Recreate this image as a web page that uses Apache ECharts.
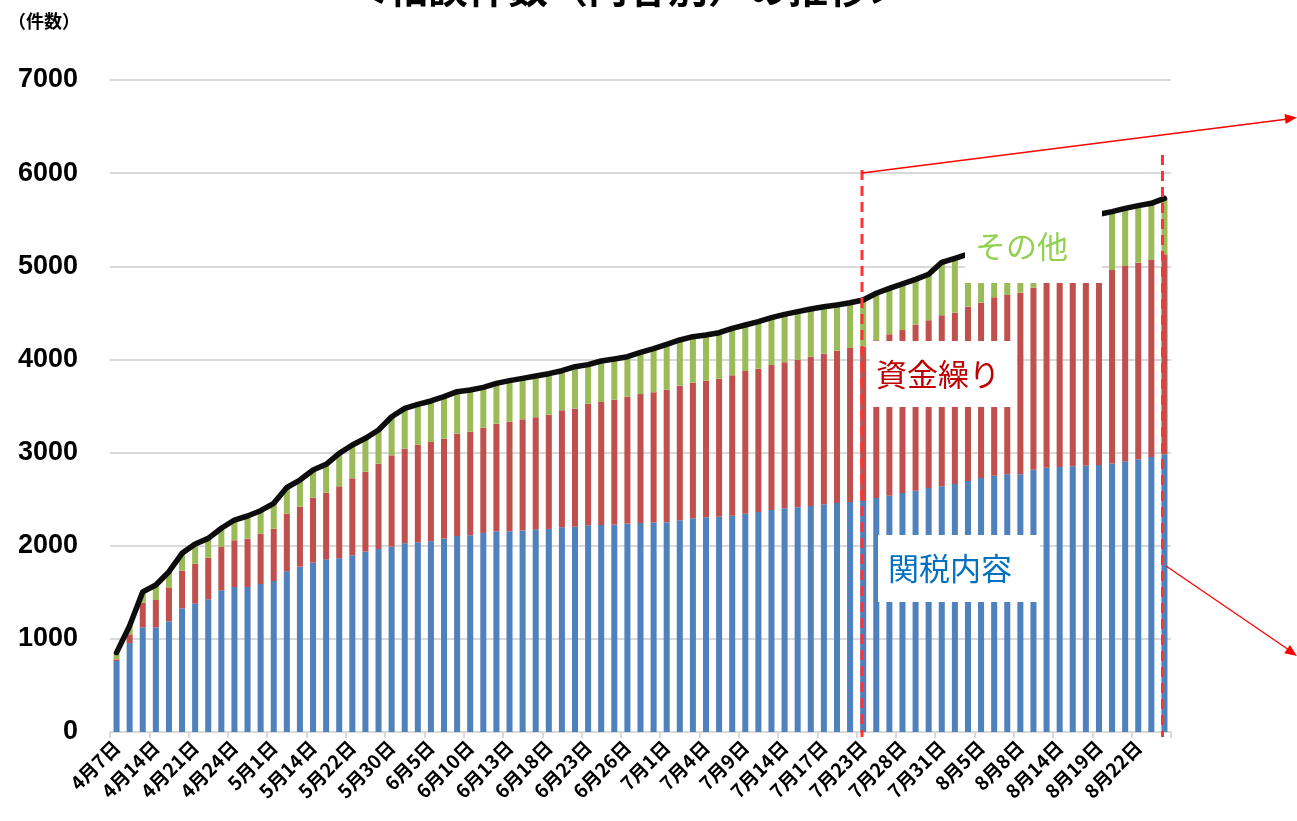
<!DOCTYPE html>
<html>
<head>
<meta charset="utf-8">
<script src="https://cdn.jsdelivr.net/npm/echarts@6/dist/echarts.min.js"></script>
<style>html,body{margin:0;padding:0;background:#fff}#c{width:1297px;height:821px}</style>
</head>
<body>
<div id="c"></div>
<script>
const categories = ['4月7日','4月9日','4月11日','4月14日','4月16日','4月18日','4月21日','4月22日','4月23日','4月24日','4月25日','4月28日','5月1日','5月7日','5月9日','5月14日','5月16日','5月20日','5月22日','5月26日','5月28日','5月30日','6月2日','6月4日','6月5日','6月6日','6月9日','6月10日','6月11日','6月12日','6月13日','6月16日','6月17日','6月18日','6月19日','6月20日','6月23日','6月24日','6月25日','6月26日','6月27日','6月30日','7月1日','7月2日','7月3日','7月4日','7月7日','7月8日','7月9日','7月10日','7月11日','7月14日','7月15日','7月16日','7月17日','7月18日','7月22日','7月23日','7月24日','7月25日','7月28日','7月29日','7月30日','7月31日','8月1日','8月4日','8月5日','8月6日','8月7日','8月8日','8月12日','8月13日','8月14日','8月15日','8月18日','8月19日','8月20日','8月21日','8月22日','8月25日','8月26日'];

const tariff = [762,955,1124,1124,1188,1328,1382,1425,1521,1557,1557,1589,1621,1725,1775,1818,1854,1865,1897,1936,1965,1990,2026,2037,2047,2076,2104,2112,2137,2155,2155,2162,2176,2180,2198,2205,2219,2222,2226,2237,2245,2248,2253,2273,2294,2305,2312,2323,2344,2362,2384,2402,2412,2426,2444,2459,2469,2480,2512,2537,2566,2591,2620,2638,2663,2695,2727,2752,2766,2768,2816,2838,2845,2852,2859,2866,2884,2906,2927,2952,2981];

const funding = [18,94,264,293,365,404,425,447,465,501,519,540,562,619,644,698,715,773,827,859,916,980,1016,1048,1067,1073,1099,1112,1130,1155,1177,1195,1203,1227,1256,1266,1306,1321,1342,1363,1383,1399,1422,1445,1456,1467,1481,1506,1532,1539,1556,1567,1582,1603,1618,1635,1654,1660,1695,1733,1750,1782,1800,1835,1839,1871,1882,1915,1926,1949,1954,2000,2017,2038,2053,2070,2076,2097,2112,2116,2148];

const other = [72,91,117,161,168,186,211,207,201,218,243,247,272,281,286,297,305,354,357,358,361,415,433,433,440,451,451,448,433,433,440,440,443,440,425,451,419,440,437,429,447,468,487,491,494,490,494,505,494,504,508,515,519,512,503,491,485,498,503,493,494,487,494,570,584,564,566,561,592,605,605,592,600,618,628,622,627,619,612,608,600];

const total = [852,1140,1505,1578,1721,1918,2018,2079,2187,2276,2319,2376,2455,2625,2705,2813,2874,2992,3081,3153,3242,3385,3475,3518,3554,3600,3654,3672,3700,3743,3772,3797,3822,3847,3879,3922,3944,3983,4005,4029,4075,4115,4162,4209,4244,4262,4287,4334,4370,4405,4448,4484,4513,4541,4565,4585,4608,4638,4710,4763,4810,4860,4914,5043,5086,5130,5175,5228,5284,5322,5375,5430,5462,5508,5540,5558,5587,5622,5651,5676,5729];

const yTicks = {min: 0, max: 7000, interval: 1000};
const seriesNames = ['関税内容','資金繰り','その他','合計'];

const chart = echarts.init(document.getElementById('c'), null, {renderer: 'canvas'});
const jp = '"Noto Sans CJK JP", "Noto Sans", sans-serif';

function labelBox(x, y, w, h, text, color, tx, ty) {
  return [
    {type: 'rect', z: 100, shape: {x: x, y: y, width: w, height: h}, style: {fill: '#ffffff'}},
    {type: 'text', z: 101, x: tx, y: ty, style: {text: text, fill: color, font: '31px ' + jp, textVerticalAlign: 'middle'}}
  ];
}

chart.setOption({
  animation: false,
  backgroundColor: '#ffffff',
  grid: {left: 110, right: 126, top: 80, bottom: 89, containLabel: false},
  xAxis: {
    type: 'category',
    data: categories,
    boundaryGap: true,
    axisLine: {lineStyle: {color: '#d9d9d9', width: 2}},
    axisTick: {show: true, interval: 2, alignWithLabel: false, length: 6, lineStyle: {color: '#d9d9d9', width: 2}},
    axisLabel: {interval: 2, rotate: 45, margin: 12, color: '#000', fontWeight: 'bold', fontSize: 19, fontFamily: jp}
  },
  yAxis: {
    type: 'value',
    min: yTicks.min, max: yTicks.max, interval: yTicks.interval,
    axisLine: {show: false},
    axisTick: {show: false},
    splitLine: {lineStyle: {color: '#d9d9d9', width: 2}},
    axisLabel: {color: '#000', fontWeight: 'bold', fontSize: 27, fontFamily: '"Liberation Sans", Arial, sans-serif', margin: 32, formatter: function (v) { return String(v); }}
  },
  series: [
    {name: seriesNames[0], type: 'bar', stack: 'a', data: tariff, barWidth: '46%', itemStyle: {color: '#4f81bd'}, z: 2},
    {name: seriesNames[1], type: 'bar', stack: 'a', data: funding, barWidth: '46%', itemStyle: {color: '#c0504d'}, z: 2},
    {name: seriesNames[2], type: 'bar', stack: 'a', data: other, barWidth: '46%', itemStyle: {color: '#9bbb59'}, z: 2},
    {name: seriesNames[3], type: 'line', data: total, symbol: 'none', z: 5, lineStyle: {color: '#0d0d0d', width: 5.5, cap: 'round', join: 'round'}}
  ],
  graphic: [
    {type: 'text', z: 100, x: 628, y: -12, style: {text: '＜相談件数（内容別）の推移＞', fill: '#000', font: 'bold 40px ' + jp, textAlign: 'center', textVerticalAlign: 'middle'}},
    {type: 'text', z: 100, x: 8, y: 21, style: {text: '（件数）', fill: '#000', font: 'bold 18px ' + jp, textVerticalAlign: 'middle'}},
    ...labelBox(878, 535, 162, 67, '関税内容', '#0070c0', 888, 568),
    ...labelBox(870, 341, 147, 66, '資金繰り', '#c00000', 876, 374),
    ...labelBox(965, 195, 137, 88, 'その他', '#92d050', 975, 246),
    {type: 'line', z: 110, shape: {x1: 862, y1: 170, x2: 862, y2: 737}, style: {stroke: '#ff3333', lineWidth: 3, lineDash: [10, 6]}},
    {type: 'line', z: 110, shape: {x1: 1162.5, y1: 155, x2: 1162.5, y2: 737}, style: {stroke: '#ff3333', lineWidth: 3, lineDash: [10, 6]}},
    {type: 'line', z: 110, shape: {x1: 862, y1: 173, x2: 1288, y2: 119}, style: {stroke: '#ff0000', lineWidth: 1.3}},
    {type: 'polygon', z: 110, shape: {points: [[1297, 117.5], [1285.7, 124], [1284.5, 114]]}, style: {fill: '#ff0000'}},
    {type: 'line', z: 110, shape: {x1: 1166, y1: 566, x2: 1289, y2: 650}, style: {stroke: '#ff0000', lineWidth: 1.3}},
    {type: 'polygon', z: 110, shape: {points: [[1297, 656], [1284.3, 653.3], [1289.9, 645.1]]}, style: {fill: '#ff0000'}}
  ]
});
</script>
</body>
</html>
